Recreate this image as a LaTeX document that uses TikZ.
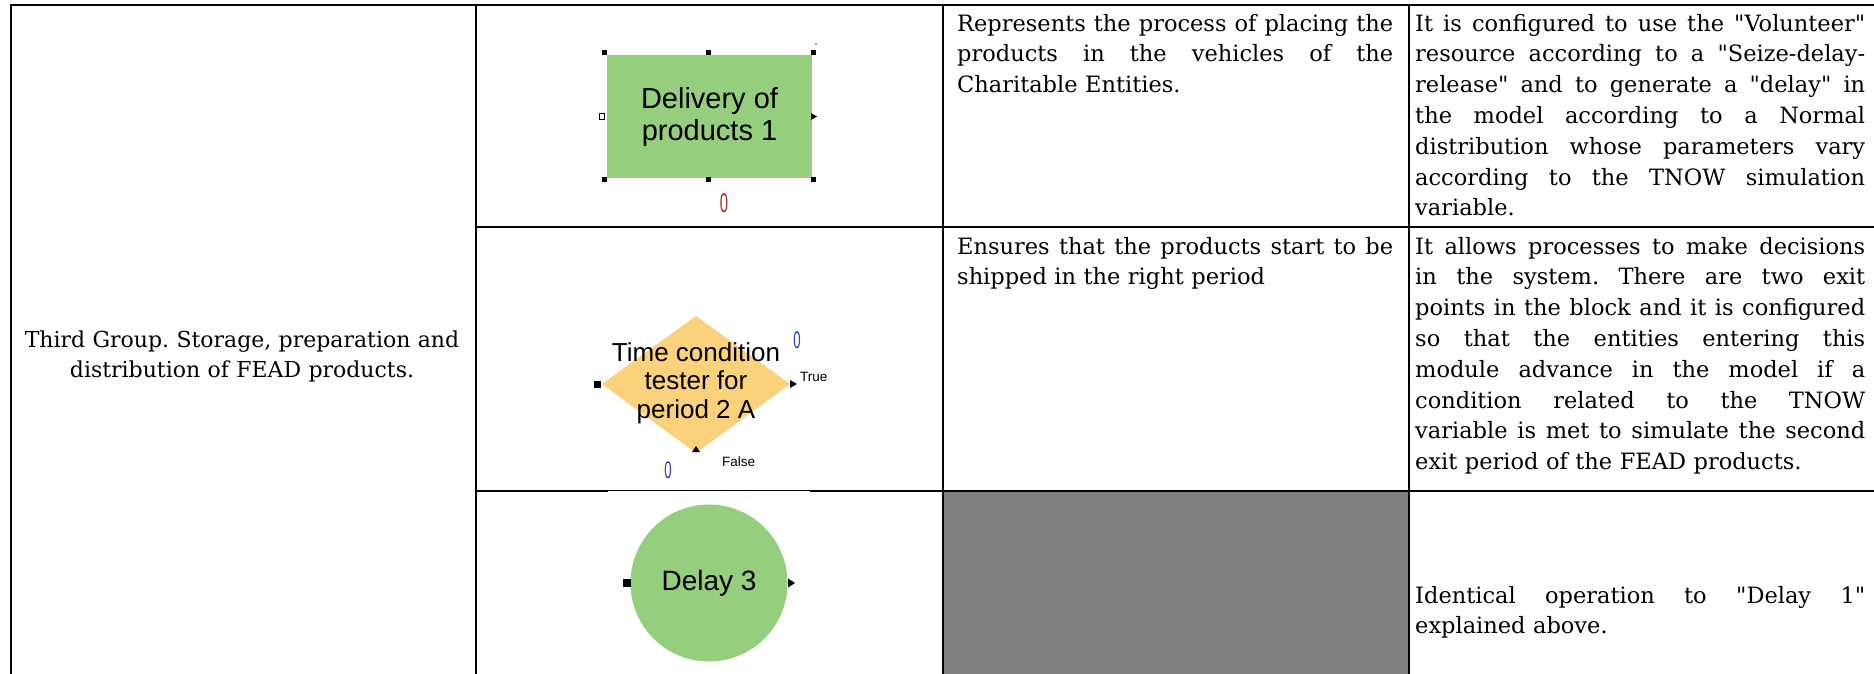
\documentclass[tikz,border=0pt]{standalone}
\usepackage{graphicx}
\usepackage{fontspec}
\setmainfont{DejaVu Serif}[Ligatures=TeXOff]
\newfontfamily\blockfont{Liberation Sans}[Ligatures=TeXOff]
\frenchspacing

\definecolor{blockgreen}{HTML}{95CE7C}
\definecolor{decideorange}{HTML}{FAD27C}
\definecolor{cellgray}{HTML}{808080}
\definecolor{countred}{HTML}{A3302C}
\definecolor{countblue}{HTML}{2B3BC6}

% a fully justified line of a table cell: the word spaces share the free room
\newcommand\fillline[2]{\leavevmode\hbox to #1{\spaceskip=0.3em plus 1fil\relax\xspaceskip=\spaceskip #2}}
% the tall, narrow entity counters of the modules
\newcommand\narrowdigit[1]{\scalebox{0.55}[1]{#1}}

\tikzset{
  tablerule/.style={line width=2pt, black},
  celltext/.style={inner sep=0pt, font=\fontsize{22.5}{30.8}\selectfont,
                   align=left, anchor=base west},
  blocklabel/.style={inner sep=0pt, align=center, text=black},
  handle/.style={fill=black, minimum size=5pt, inner sep=0pt},
  smalllabel/.style={inner sep=0pt, font=\blockfont\fontsize{13.5}{14}\selectfont, anchor=west},
  counter/.style={inner sep=0pt, font=\blockfont\fontsize{24}{24}\selectfont},
}

\begin{document}
\begin{tikzpicture}[x=1pt, y=-1pt]
\useasboundingbox (0,0) rectangle (1874,673);

% ---------- cell backgrounds ----------
\fill[cellgray] (944,492) rectangle (1407.5,676);

% ---------- Process module: Delivery of products 1 ----------
\node[blocklabel, rectangle, fill=blockgreen, minimum width=205pt, minimum height=123pt,
      font=\blockfont\fontsize{29}{32}\selectfont] (deliv) at (709.5,116.5) {Delivery of\\products 1};
\foreach \hx/\hy [count=\i] in {604/52, 708/52, 813/52, 604/179, 708/179, 813/179}
  \node[handle] (hdl\i) at (\hx,\hy) {};
\node[draw, fill=white, line width=1pt, minimum width=5pt, minimum height=6pt, inner sep=0pt] (delivin) at (602,116.5) {};
\coordinate (delivout) at (813,116.5);
\fill ([xshift=-2pt,yshift=3.5pt]delivout) -- ([xshift=4pt]delivout) -- ([xshift=-2pt,yshift=-3.5pt]delivout) -- cycle;
\fill[countblue] (816,44) circle (0.8pt);
\node[counter, text=countred, font=\blockfont\fontsize{27}{27}\selectfont] (cnt1) at (724,203) {\narrowdigit{0}};

% ---------- Decide module: Time condition tester for period 2 A ----------
\coordinate (dW) at (602,384);
\coordinate (dN) at (696,316);
\coordinate (dE) at (790,384);
\coordinate (dS) at (696,453);
\fill[decideorange] (dW) -- (dN) -- (dE) -- (dS) -- cycle;
\node[blocklabel, font=\blockfont\fontsize{26}{28.5}\selectfont] (cond) at (696,383) {Time condition\\tester for\\period 2 A};
\node[handle, minimum size=7pt] (condin) at (597,384) {};
\fill ([yshift=4pt]dE) -- ([xshift=7pt]dE) -- ([yshift=-4pt]dE) -- cycle;
\node[smalllabel] (truelbl) at (800,377) {True};
\node[counter, text=countblue] (cnttrue) at (797,340) {\narrowdigit{0}};
\fill ([xshift=-4pt,yshift=1pt]dS) -- ([xshift=4pt,yshift=1pt]dS) -- ([yshift=7pt]dS) -- cycle;
\node[smalllabel] (falselbl) at (722,462) {False};
\node[counter, text=countblue] (cntfalse) at (668,470) {\narrowdigit{0}};

% ---------- Delay module: Delay 3 ----------
\node[blocklabel, circle, fill=blockgreen, minimum size=157pt,
      font=\blockfont\fontsize{28}{28}\selectfont] (delay3) at (709,583) {Delay 3};
\node[handle, minimum size=8pt] (delayin) at (627,583) {};
\coordinate (delayout) at (788,583);
\fill ([yshift=4.5pt]delayout) -- ([xshift=7pt]delayout) -- ([yshift=-4.5pt]delayout) -- cycle;

% ---------- table rules ----------
\coordinate (c0) at (11,5);
\coordinate (c1) at (475.5,5);
\coordinate (c2) at (943,5);
\coordinate (c3) at (1408.5,5);
\draw[tablerule] (10,5) -- (1876,5);
\foreach \c in {c0,c1,c2,c3}
  \draw[tablerule] (\c) -- (\c |- 0,676);
\draw[tablerule] (c1 |- 0,227) -- (1876,227);
\draw[tablerule] (c1 |- 0,491) -- (1876,491);
% the Delay 3 picture sits over part of the lower rule
\fill[white] (608,491) rectangle (810,493);

% ---------- cell texts ----------
\node[celltext, align=center, text width=450pt, anchor=base,
      font=\fontsize{22}{30.5}\selectfont] (grouptitle) at (242,347)
  {Third Group. Storage, preparation and\\distribution of FEAD products.};

\node[celltext, text width=436pt] (desc1) at (957,31)
  {\fillline{436pt}{Represents the process of placing the}\\
   \fillline{436pt}{products in the vehicles of the}\\
   Charitable Entities.};

\node[celltext, text width=450pt] (conf1) at (1415,31)
  {\fillline{450pt}{It is configured to use the "Volunteer"}\\
   \fillline{450pt}{resource according to a "Seize-delay-}\\
   \fillline{450pt}{release" and to generate a "delay" in}\\
   \fillline{450pt}{the model according to a Normal}\\
   \fillline{450pt}{distribution whose parameters vary}\\
   \fillline{450pt}{according to the TNOW simulation}\\
   variable.};

\node[celltext, text width=436pt] (desc2) at (957,254)
  {\fillline{436pt}{Ensures that the products start to be}\\
   shipped in the right period};

\node[celltext, text width=450pt] (conf2) at (1415,254)
  {\fillline{450pt}{It allows processes to make decisions}\\
   \fillline{450pt}{in the system. There are two exit}\\
   \fillline{450pt}{points in the block and it is configured}\\
   \fillline{450pt}{so that the entities entering this}\\
   \fillline{450pt}{module advance in the model if a}\\
   \fillline{450pt}{condition related to the TNOW}\\
   \fillline{450pt}{variable is met to simulate the second}\\
   exit period of the FEAD products.};

\node[celltext, text width=450pt] (conf3) at (1415,603)
  {\fillline{450pt}{Identical operation to "Delay 1"}\\
   explained above.};
\end{tikzpicture}
\end{document}
